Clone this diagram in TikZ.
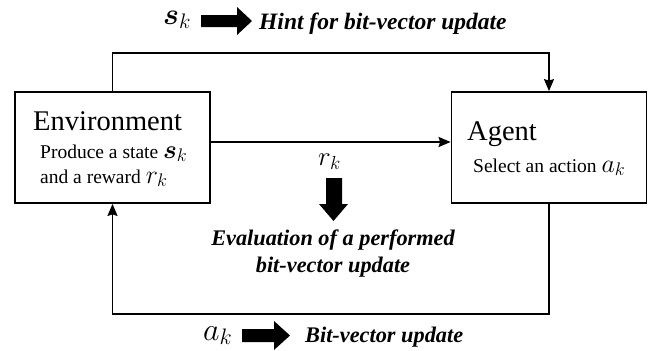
\documentclass[tikz,border=0pt]{standalone}
\usepackage{fix-cm}
\usepackage{amsmath}
\usepackage{bm}
\usepackage{fontspec}
\setmainfont{Liberation Serif}
\usetikzlibrary{arrows.meta}
\newcommand{\inmath}[1]{{\fontsize{26}{28}\selectfont$#1$}}
\begin{document}
\begin{tikzpicture}[x=1pt,y=-1pt,
  box/.style={draw, line width=1.8pt, minimum width=195pt, minimum height=111pt, inner sep=0pt},
  conn/.style={line width=1.8pt, -{Stealth[length=12pt,width=10pt,inset=1.5pt]}},
  big/.style={font=\fontsize{28.5}{32}\selectfont, inner sep=0pt, anchor=base west},
  small/.style={font=\fontsize{19.5}{24}\selectfont, inner sep=0pt, anchor=base west},
  lbl/.style={font=\fontsize{22.3}{26}\selectfont\bfseries\itshape, inner sep=0pt},
  sym/.style={inner sep=0pt, anchor=base west},
  fat/.style={fill=black}
]
\useasboundingbox (0,0) rectangle (649,351);
\node[box] (env) at (112.5,147.5) {};
\node[box] (agent) at (549,147.5) {};

\node[big] (envt) at (33,130) {Environment};
\node[small] (envl1) at (40,158) {Produce a state \inmath{\bm{s}_k}};
\node[small] (envl2) at (40,183) {and a reward \inmath{r_k}};
\node[big] (agt) at (467,140) {Agent};
\node[small] (agl) at (473,172) {Select an action \inmath{a_k}};

\draw[conn] (env.north) -- ++(0,-38) -| (agent.north);
\draw[conn] ([yshift=5.5pt]env.east) -- ([yshift=5.5pt]agent.west);
\draw[conn] (agent.south) -- ++(0,110) -| (env.south);

% top label
\node[sym, font=\fontsize{30}{34}\selectfont] (sk) at (163,24) {$\bm{s}_k$};
\fill[fat] (201,15) -- (237,15) -- (237,7) -- (252,21) -- (237,35) -- (237,27) -- (201,27) -- cycle;
\node[lbl, font=\fontsize{23.5}{27}\selectfont\bfseries\itshape, anchor=base west] (hint) at (259,29) {Hint for bit-vector update};

% middle label
\node[sym, font=\fontsize{27}{30}\selectfont] (rk) at (318,165) {$r_k$};
\fill[fat] (326,178) -- (342,178) -- (342,204) -- (348,204) -- (333.5,221) -- (319,204) -- (326,204) -- cycle;
\node[lbl, anchor=base] (ev1) at (333,245) {Evaluation of a performed};
\node[lbl, anchor=base] (ev2) at (333,272) {bit-vector update};

% bottom label
\node[sym, font=\fontsize{32}{36}\selectfont] (ak) at (203,340) {$a_k$};
\fill[fat] (242,329) -- (274,329) -- (274,321) -- (290,335.5) -- (274,350) -- (274,342) -- (242,342) -- cycle;
\node[lbl, anchor=base west] (bvu) at (305,342) {Bit-vector update};
\end{tikzpicture}
\end{document}
